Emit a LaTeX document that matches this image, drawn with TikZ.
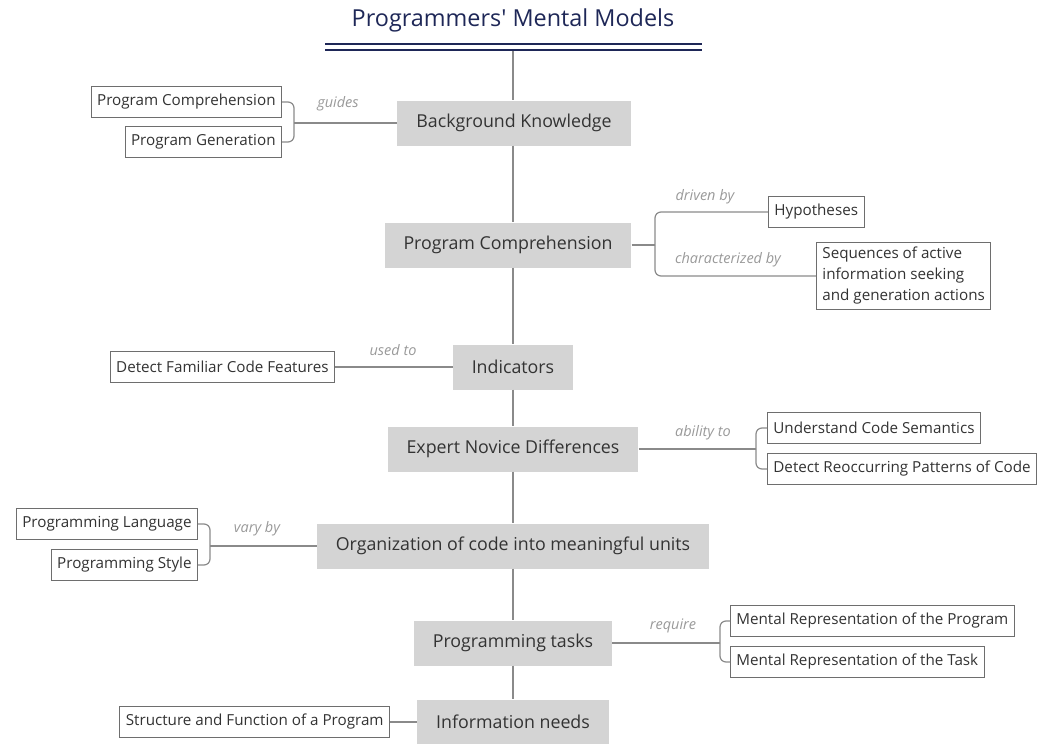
\documentclass[tikz,border=0pt]{standalone}
\usepackage{fontspec}
\setmainfont{Open Sans}
\usepackage{tikz}
\usetikzlibrary{positioning}
\definecolor{navy}{HTML}{1E2757}
\definecolor{topicgray}{HTML}{D4D4D4}
\definecolor{inkgray}{HTML}{333333}
\definecolor{linegray}{HTML}{8A8A8A}
\definecolor{relgray}{HTML}{999999}
\tikzset{
	topic/.style={fill=topicgray,text=inkgray,inner xsep=19pt,minimum height=45pt,font=\fontsize{17.8}{20}\selectfont},
	leaf/.style={draw=linegray!80!black,fill=white,text=inkgray,line width=0.8pt,inner xsep=6pt,minimum height=31pt,font=\fontsize{15.2}{21}\selectfont},
	rel/.style={text=relgray,font=\fontsize{14.5}{16}\itshape},
	branch/.style={draw=linegray,line width=1.2pt,rounded corners=6pt},
}
\begin{document}
\begin{tikzpicture}[x=1pt,y=-1pt]
	\useasboundingbox (0,0) rectangle (1039,744);
	%% title and bar
	\node[text=navy,font=\fontsize{23.4}{26}\selectfont] (title) at (513,20) {Programmers\textquotesingle{} Mental Models};
	\draw[navy,line width=2.4pt] (325,44) -- (702,44);
	\draw[navy,line width=2.4pt] (325,50) -- (702,50);
	\coordinate (bar) at (513,51);
	%% main topics
	\node[topic] (bk) at (514,123) {Background Knowledge};
	\node[topic] (pc) at (508,245) {Program Comprehension};
	\node[topic] (ind) at (513,367) {Indicators};
	\node[topic] (end) at (513,449) {Expert Novice Differences};
	\node[topic] (org) at (513,546) {Organization of code into meaningful units};
	\node[topic] (tasks) at (513,643) {Programming tasks};
	\node[topic] (info) at (513,722) {Information needs};
	%% trunk
	\draw[linegray,line width=1.2pt] (bar) -- (bk.north -| bar) (bk.south -| bar) -- (pc.north -| bar) (pc.south -| bar) -- (ind) -- (end) -- (org) -- (tasks) -- (info);
	%% Background Knowledge
	\node[leaf,anchor=east] (bkcomp) at (282,102) {Program Comprehension};
	\node[leaf,anchor=east] (bkgen) at (282,142) {Program Generation};
	\coordinate (jbk) at (294,123);
	\draw[branch] (bkcomp.east) -| (jbk) |- (bkgen.east);
	\draw[branch] (jbk) -- (bk);
	\node[rel] (guides) at (338,104) {guides};
	%% Program Comprehension
	\node[leaf,anchor=west] (hyp) at (768,212) {Hypotheses};
	\node[leaf,anchor=west,align=left,inner ysep=5pt] (seq) at (816,276) {Sequences of active\\information seeking\\and generation actions};
	\coordinate (jpc) at (655,245);
	\draw[branch] (pc) -- (jpc);
	\draw[branch] (jpc) |- (hyp.west);
	\draw[branch] (jpc) |- (seq.west);
	\node[rel] (driven) at (705,197) {driven by};
	\node[rel] (charac) at (728,260) {characterized by};
	%% Indicators
	\node[leaf,anchor=east] (dffc) at (335,367) {Detect Familiar Code Features};
	\draw[branch] (dffc) -- (ind);
	\node[rel] (usedto) at (393,350) {used to};
	%% Expert Novice Differences
	\node[leaf,anchor=west] (ucs) at (767,428) {Understand Code Semantics};
	\node[leaf,anchor=west] (drpc) at (767,469) {Detect Reoccurring Patterns of Code};
	\coordinate (jend) at (756,449);
	\draw[branch] (end) -- (jend);
	\draw[branch] (jend) |- (ucs.west);
	\draw[branch] (jend) |- (drpc.west);
	\node[rel] (ability) at (703,433) {ability to};
	%% Organization
	\node[leaf,anchor=east] (plang) at (198,524) {Programming Language};
	\node[leaf,anchor=east] (pstyle) at (198,565) {Programming Style};
	\coordinate (jorg) at (210,546);
	\draw[branch] (plang.east) -| (jorg) |- (pstyle.east);
	\draw[branch] (jorg) -- (org);
	\node[rel] (varyby) at (257,529) {vary by};
	%% Programming tasks
	\node[leaf,anchor=west] (mrp) at (730,621) {Mental Representation of the Program};
	\node[leaf,anchor=west] (mrt) at (730,662) {Mental Representation of the Task};
	\coordinate (jtasks) at (720,643);
	\draw[branch] (tasks) -- (jtasks);
	\draw[branch] (jtasks) |- (mrp.west);
	\draw[branch] (jtasks) |- (mrt.west);
	\node[rel] (require) at (673,626) {require};
	%% Information needs
	\node[leaf,anchor=east] (sfp) at (390,722) {Structure and Function of a Program};
	\draw[branch] (sfp) -- (info);
\end{tikzpicture}
\end{document}
